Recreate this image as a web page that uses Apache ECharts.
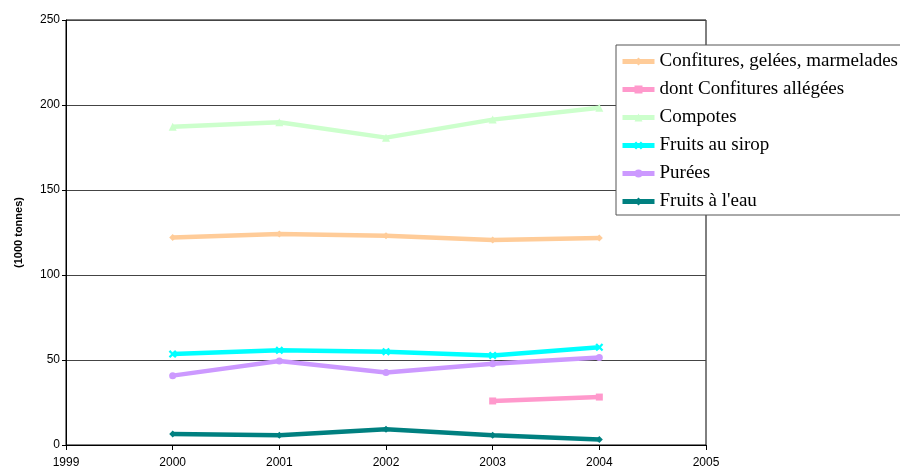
<!DOCTYPE html>
<html>
<head>
<meta charset="utf-8">
<script src="https://cdn.jsdelivr.net/npm/echarts@6/dist/echarts.min.js"></script>
<style>
  html, body { margin: 0; padding: 0; background: #fff; }
  #chart { width: 900px; height: 468px; }
</style>
</head>
<body>
<div id="chart"></div>
<script>
var years = [2000, 2001, 2002, 2003, 2004]
var confitures = [122, 124.1, 123.1, 120.6, 121.8]
var allegees = [null, null, null, 25.9, 28.2]
var compotes = [187.2, 189.8, 180.8, 191.4, 198.4]
var sirop = [53.5, 55.7, 54.9, 52.7, 57.5]
var purees = [40.8, 49.4, 42.7, 47.8, 51.4]
var eau = [6.5, 5.7, 9.2, 5.7, 3.3]

var crossPath = 'path://M0,2 L2,0 L5,3 L8,0 L10,2 L7,5 L10,8 L8,10 L5,7 L2,10 L0,8 L3,5 Z'

function pairs(vals) {
  return years.map(function (y, i) { return [y, vals[i]] })
}

function line(name, vals, color, symbol, size) {
  return {
    name: name,
    type: 'line',
    data: pairs(vals),
    symbol: symbol,
    symbolSize: size,
    showAllSymbol: true,
    connectNulls: false,
    lineStyle: {color: color, width: 4.5},
    itemStyle: {color: color},
    emphasis: {disabled: true}
  }
}

var chart = echarts.init(document.getElementById('chart'))
chart.setOption({
  animation: false,
  backgroundColor: '#fff',
  grid: {
    left: 66, right: 194, top: 20, bottom: 23,
    outerBoundsMode: 'none',
    show: true, borderColor: '#000', borderWidth: 1
  },
  xAxis: {
    type: 'value',
    min: 1999, max: 2005, interval: 1,
    axisLine: {lineStyle: {color: '#000'}},
    axisTick: {show: true, length: 5, lineStyle: {color: '#000'}},
    axisLabel: {
      color: '#000', fontFamily: 'Liberation Sans', fontSize: 12, margin: 12,
      formatter: function (v) { return String(v) }
    },
    splitLine: {show: false}
  },
  yAxis: {
    type: 'value',
    min: 0, max: 250, interval: 50,
    name: '(1000 tonnes)',
    nameLocation: 'middle',
    nameGap: 42,
    nameTextStyle: {color: '#000', fontFamily: 'Liberation Sans', fontSize: 11, fontWeight: 'bold'},
    axisLine: {show: true, lineStyle: {color: '#000'}},
    axisTick: {show: true, length: 4, lineStyle: {color: '#000'}},
    axisLabel: {color: '#000', fontFamily: 'Liberation Sans', fontSize: 12, margin: 6},
    splitLine: {show: true, lineStyle: {color: '#444', width: 1}}
  },
  legend: {
    orient: 'vertical',
    left: 616, top: 45,
    padding: [7, 30, 4, 4],
    itemWidth: 32, itemHeight: 10, itemGap: 9,
    backgroundColor: '#fff',
    borderColor: '#555', borderWidth: 1,
    lineStyle: {width: 5},
    textStyle: {color: '#000', fontFamily: 'Liberation Serif', fontSize: 19},
    data: ['Confitures, gelées, marmelades', 'dont Confitures allégées', 'Compotes', 'Fruits au sirop', 'Purées', "Fruits à l'eau"]
  },
  series: [
    line('Confitures, gelées, marmelades', confitures, '#FFCC99', 'diamond', 7),
    line('dont Confitures allégées', allegees, '#FF99CC', 'rect', 7),
    line('Compotes', compotes, '#CCFFCC', 'triangle', 8),
    line('Fruits au sirop', sirop, '#00FFFF', crossPath, 8),
    line('Purées', purees, '#CC99FF', 'circle', 7),
    line("Fruits à l'eau", eau, '#008080', 'diamond', 7)
  ]
})
</script>
</body>
</html>
